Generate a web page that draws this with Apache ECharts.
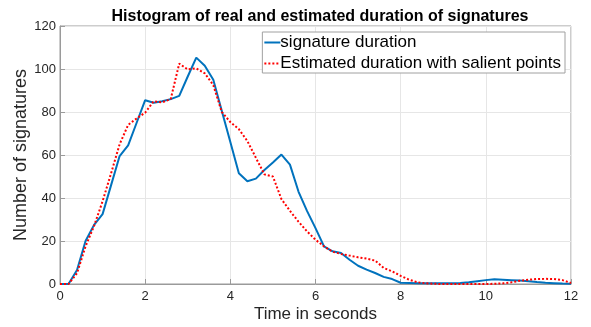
<!DOCTYPE html>
<html>
<head>
<meta charset="utf-8">
<script src="https://cdn.jsdelivr.net/npm/echarts@6/dist/echarts.min.js"></script>
<style>html,body{margin:0;padding:0;background:#fff}#c{width:591px;height:327px}</style>
</head>
<body>
<div id="c"></div>
<script>
var timeSec = [0,0.2,0.4,0.6,0.8,1.0,1.2,1.4,1.6,1.8,2.0,2.2,2.4,2.6,2.8,3.0,3.2,3.4,3.6,3.8,4.0,4.2,4.4,4.6,4.8,5.0,5.2,5.4,5.6,5.8,6.0,6.2,6.4,6.6,6.8,7.0,7.2,7.4,7.6,7.8,8.0,8.2,8.4,8.6,8.8,9.0,9.2,9.4,9.6,9.8,10.0,10.2,10.4,10.6,10.8,11.0,11.2,11.4,11.6,11.8,12.0];
var realDuration = [0,0,6.5,20,27.5,32.5,46,59.5,64.5,75,85.5,84.3,85,86,87.5,96.5,105.3,101.5,95,80.5,66,51.5,47.8,49,53,56.5,60.2,55.5,43,34,26,17.5,15.2,14.4,11.3,8.5,6.7,5.1,3.3,2.3,0.6,0.5,0.4,0.3,0.3,0.3,0.4,0.5,0.8,1.3,1.8,2.2,2,1.8,1.6,1.3,0.9,0.6,0.4,0.2,0.1];
var estDuration = [0,0,5,17.5,27,38.5,51.5,65,74,77,79.7,85,84.5,86,102.5,99.8,100.3,98,92.5,80,75.3,72,66.5,58.7,51,50,39.5,34,29,24.5,20.6,17.5,15,14,13.2,12.4,11.8,10.9,7.5,5.9,3.8,2,0.8,0.3,0.1,0,0,0,0,0,0,0.1,0.3,0.8,1.5,2,2.3,2.4,2.3,1.8,0.5];
var seriesNames = ['signature duration','Estimated duration with salient points'];
var titleText = 'Histogram of real and estimated duration of signatures';
var xTitle = 'Time in seconds';
var yTitle = 'Number of signatures';

function pairs(ys){ return timeSec.map(function(x,i){ return [x, ys[i]]; }); }

var chart = echarts.init(document.getElementById('c'), null, {renderer:'canvas'});
var font = 'Liberation Sans, Arial, sans-serif';
chart.setOption({
  animation:false,
  backgroundColor:'#fff',
  title:{text:titleText,left:315,textAlign:'center',top:4,
    textStyle:{fontFamily:font,fontSize:16,fontWeight:'bold',color:'#000'}},
  grid:{left:60,right:20,top:26,bottom:43,outerBoundsMode:'none',containLabel:false,show:true,borderColor:'#9a9a9a',borderWidth:1,backgroundColor:'transparent'},
  legend:{orient:'vertical',right:26,top:32,padding:[2,4,1,1],itemGap:4,itemWidth:16,itemHeight:12,
    borderColor:'#a0a0a0',borderWidth:1,backgroundColor:'#fff',
    itemStyle:{opacity:0},
    textStyle:{fontFamily:font,fontSize:17,color:'#000',padding:[0,0,0,-5]},
    data:seriesNames},
  xAxis:{type:'value',min:0,max:12,interval:2,name:xTitle,nameLocation:'middle',nameGap:22,nameMoveOverlap:false,
    nameTextStyle:{fontFamily:font,fontSize:17,color:'#262626'},
    axisLine:{show:true,lineStyle:{color:'#9a9a9a'}},
    axisTick:{show:true,inside:true,length:5,lineStyle:{color:'#9a9a9a'}},
    axisLabel:{fontFamily:font,fontSize:13,color:'#262626',margin:6},
    splitLine:{show:true,lineStyle:{color:'#e6e6e6'}}},
  yAxis:{type:'value',min:0,max:120,interval:20,name:yTitle,nameLocation:'middle',nameGap:30,nameMoveOverlap:false,
    nameTextStyle:{fontFamily:font,fontSize:18,color:'#262626'},
    axisLine:{show:true,lineStyle:{color:'#9a9a9a'}},
    axisTick:{show:true,inside:true,length:5,lineStyle:{color:'#9a9a9a'}},
    axisLabel:{fontFamily:font,fontSize:13,color:'#262626',margin:4},
    splitLine:{show:true,lineStyle:{color:'#e6e6e6'}}},
  series:[
    {name:seriesNames[0],type:'line',data:pairs(realDuration),showSymbol:false,symbol:'none',
      lineStyle:{color:'#0072BD',width:2},itemStyle:{color:'#0072BD'},z:3},
    {name:seriesNames[1],type:'line',data:pairs(estDuration),showSymbol:false,symbol:'none',
      lineStyle:{color:'#ff0000',width:2,type:[2,2]},itemStyle:{color:'#ff0000'},z:4}
  ]
});
</script>
</body>
</html>
